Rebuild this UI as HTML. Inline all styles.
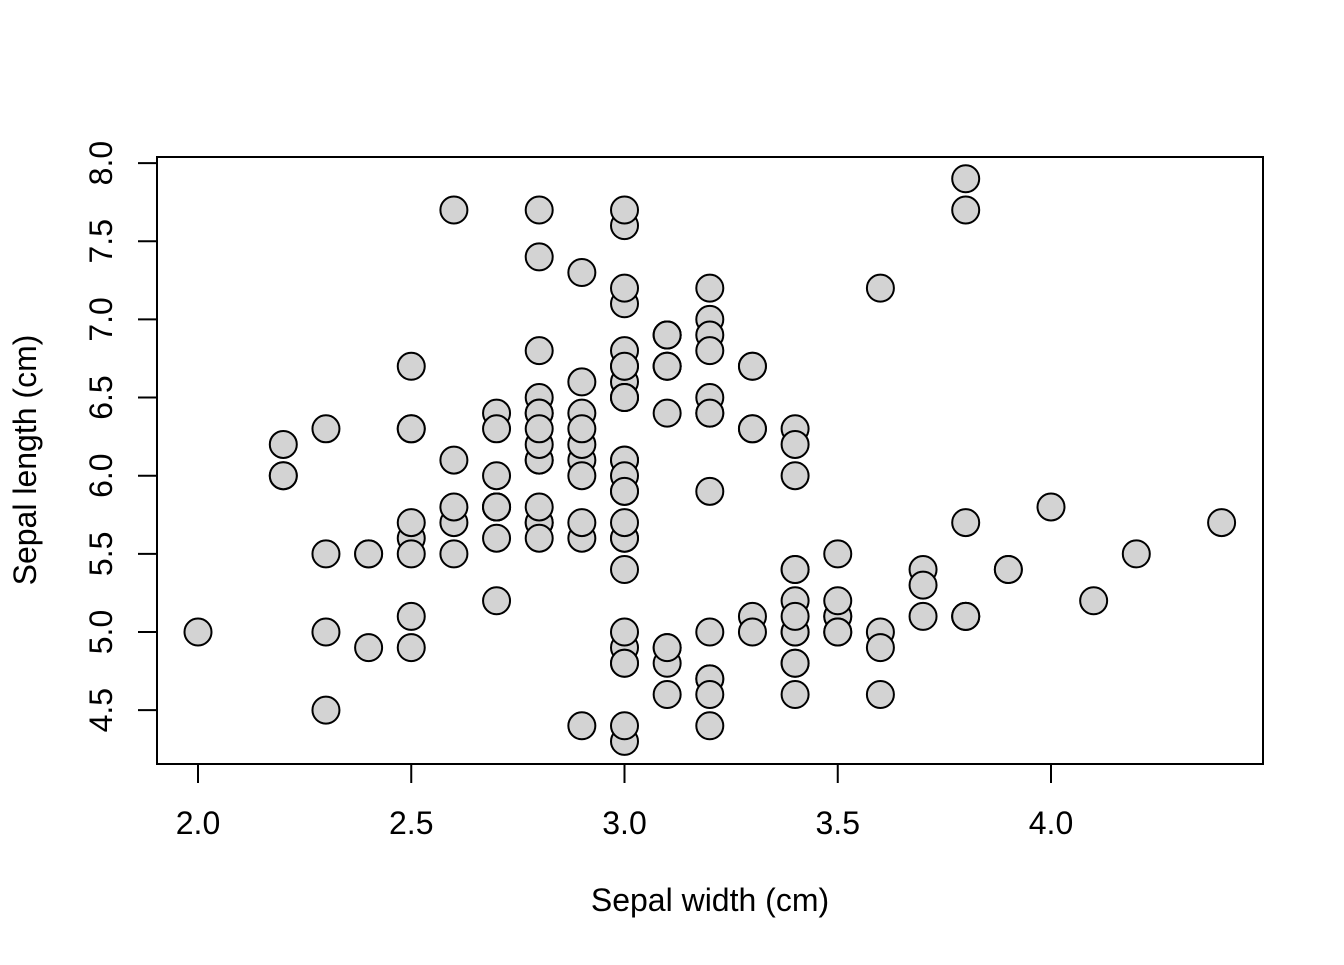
<!DOCTYPE html>
<html><head><meta charset="utf-8"><style>
html,body{margin:0;padding:0;background:#fff;}
svg text{font-family:"Liberation Sans",Arial,sans-serif;fill:#000;}
</style></head><body>
<svg id="chart" width="1344" height="960" xmlns="http://www.w3.org/2000/svg">
<rect x="0" y="0" width="1344" height="960" fill="#fff"/>
<g id="pts"></g>
<rect x="157" y="157" width="1106" height="607" fill="none" stroke="#000" stroke-width="2"/>
<g id="xax"></g>
<g id="yax"></g>
<text x="710" y="911" font-size="32" text-anchor="middle">Sepal width (cm)</text>
<text transform="translate(36,460) rotate(-90)" font-size="32" text-anchor="middle">Sepal length (cm)</text>
</svg>
<script>
const sepalLength=[5.1,4.9,4.7,4.6,5.0,5.4,4.6,5.0,4.4,4.9,5.4,4.8,4.8,4.3,5.8,5.7,5.4,5.1,5.7,5.1,5.4,5.1,4.6,5.1,4.8,5.0,5.0,5.2,5.2,4.7,4.8,5.4,5.2,5.5,4.9,5.0,5.5,4.9,4.4,5.1,5.0,4.5,4.4,5.0,5.1,4.8,5.1,4.6,5.3,5.0,
7.0,6.4,6.9,5.5,6.5,5.7,6.3,4.9,6.6,5.2,5.0,5.9,6.0,6.1,5.6,6.7,5.6,5.8,6.2,5.6,5.9,6.1,6.3,6.1,6.4,6.6,6.8,6.7,6.0,5.7,5.5,5.5,5.8,6.0,5.4,6.0,6.7,6.3,5.6,5.5,5.5,6.1,5.8,5.0,5.6,5.7,5.7,6.2,5.1,5.7,
6.3,5.8,7.1,6.3,6.5,7.6,4.9,7.3,6.7,7.2,6.5,6.4,6.8,5.7,5.8,6.4,6.5,7.7,7.7,6.0,6.9,5.6,7.7,6.3,6.7,7.2,6.2,6.1,6.4,7.2,7.4,7.9,6.4,6.3,6.1,7.7,6.3,6.4,6.0,6.9,6.7,6.9,5.8,6.8,6.7,6.7,6.3,6.5,6.2,5.9];
const sepalWidth=[3.5,3.0,3.2,3.1,3.6,3.9,3.4,3.4,2.9,3.1,3.7,3.4,3.0,3.0,4.0,4.4,3.9,3.5,3.8,3.8,3.4,3.7,3.6,3.3,3.4,3.0,3.4,3.5,3.4,3.2,3.1,3.4,4.1,4.2,3.1,3.2,3.5,3.6,3.0,3.4,3.5,2.3,3.2,3.5,3.8,3.0,3.8,3.2,3.7,3.3,
3.2,3.2,3.1,2.3,2.8,2.8,3.3,2.4,2.9,2.7,2.0,3.0,2.2,2.9,2.9,3.1,3.0,2.7,2.2,2.5,3.2,2.8,2.5,2.8,2.9,3.0,2.8,3.0,2.9,2.6,2.4,2.4,2.7,2.7,3.0,3.4,3.1,2.3,3.0,2.5,2.6,3.0,2.6,2.3,2.7,3.0,2.9,2.9,2.5,2.8,
3.3,2.7,3.0,2.9,3.0,3.0,2.5,2.9,2.5,3.6,3.2,2.7,3.0,2.5,2.8,3.2,3.0,3.8,2.6,2.2,3.2,2.8,2.8,2.7,3.3,3.2,2.8,3.0,2.8,3.0,2.8,3.8,2.8,2.8,2.6,3.0,3.4,3.1,3.0,3.1,3.1,3.1,2.7,3.2,3.3,3.0,2.5,3.0,3.4,3.0];
const xTicks=["2.0","2.5","3.0","3.5","4.0"];
const yTicks=["4.5","5.0","5.5","6.0","6.5","7.0","7.5","8.0"];

const NS="http://www.w3.org/2000/svg";
function xs(v){return 198+(v-2.0)*426.5;}
function ys(v){return 632-(v-5.0)*156.3;}
function mk(tag,attrs,parent){const e=document.createElementNS(NS,tag);for(const k in attrs)e.setAttribute(k,attrs[k]);parent.appendChild(e);return e;}
const pts=document.getElementById('pts');
for(let i=0;i<sepalLength.length;i++){
  const c=mk('circle',{cx:xs(sepalWidth[i]),cy:ys(sepalLength[i]),r:13.5,fill:'#d3d3d3',stroke:'#000','stroke-width':2},pts);
  
  
}
const xax=document.getElementById('xax');
xTicks.forEach(t=>{
  const x=xs(parseFloat(t));
  const l=mk('line',{x1:x,x2:x,y1:764,y2:783,stroke:'#000','stroke-width':2},xax);
  
  
  const tx=mk('text',{x:x,y:834,'font-size':32,'text-anchor':'middle'},xax);
  tx.textContent=t;
  
  
});
const yax=document.getElementById('yax');
yTicks.forEach(t=>{
  const y=ys(parseFloat(t));
  const l=mk('line',{x1:138,x2:157,y1:y,y2:y,stroke:'#000','stroke-width':2},yax);
  
  
  const tx=mk('text',{transform:`translate(112,${y}) rotate(-90)`,'font-size':32,'text-anchor':'middle'},yax);
  tx.textContent=t;
  
  
});
</script>
</body></html>
